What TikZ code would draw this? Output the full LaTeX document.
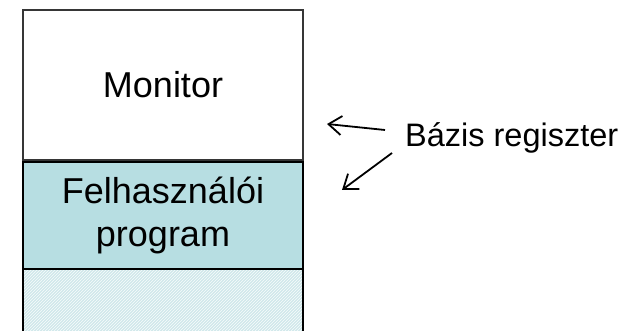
\documentclass[tikz,border=0pt]{standalone}
\usepackage{fontspec}
\setmainfont{Liberation Sans}
\usetikzlibrary{arrows.meta,patterns}
\definecolor{userfill}{RGB}{183,222,226}
\definecolor{freefill}{RGB}{208,232,235}
\definecolor{edgegray}{RGB}{90,90,90}
\tikzset{
  membox/.style={rectangle, draw=black, line width=2.4pt, minimum width=280pt,
    inner sep=0pt, align=center, font=\fontsize{36}{43}\selectfont},
  note/.style={font=\fontsize{32.5}{39}\selectfont, inner sep=0pt},
  pointer/.style={line width=1.8pt, draw=black,
    -{Straight Barb[length=13pt,width=19pt,line width=1.8pt]}}
}
\begin{document}
\begin{tikzpicture}[x=1pt,y=1pt]
\useasboundingbox (0,0) rectangle (621,-331);
% free (hatched) area below the user program
\fill[freefill] (23,-269) rectangle (303,-331);
\fill[pattern=north east lines, pattern color=white!85!freefill] (23,-269) rectangle (303,-331);
\draw[line width=2.4pt] (23,-269) -- (23,-331) (303,-269) -- (303,-331);
% memory blocks
\node[membox, draw=edgegray!60!black, fill=white, minimum height=150pt] (mon) at (163,-85) {Monitor};
\node[membox, fill=userfill, minimum height=107pt] (usr) at (163,-215.5) {Felhasználói\\program};
% base register label and its two pointers
\node[note, anchor=base west] (bazis) at (405,-147) {Bázis regiszter};
\coordinate (p1s) at (385,-130);
\coordinate (p1e) at (327,-124);
\coordinate (p2s) at (392,-153);
\coordinate (p2e) at (342,-190);
\draw[pointer] (p1s) -- (p1e);
\draw[pointer] (p2s) -- (p2e);
\end{tikzpicture}
\end{document}
